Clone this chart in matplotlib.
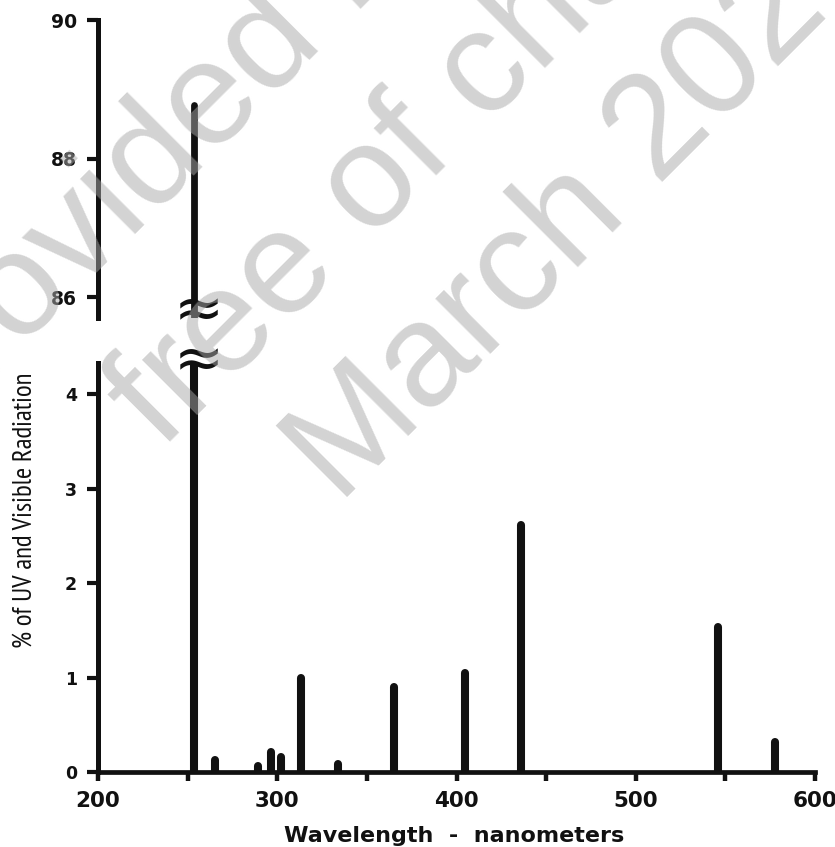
import matplotlib
matplotlib.use("Agg")
import matplotlib.pyplot as plt
from matplotlib import font_manager as fm

# Mercury lamp emission lines
wavelengths = [253.7, 265.2, 289.4, 296.7, 302.2, 313.2, 334.1, 365.0, 404.7, 435.8, 546.1, 577.9]
percent = [88.78, 0.13, 0.06, 0.21, 0.16, 1.00, 0.08, 0.90, 1.05, 2.61, 1.53, 0.32]

x_major = [200, 300, 400, 500, 600]
x_minor = [250, 350, 450, 550]
y_low_ticks = [0, 1, 2, 3, 4]
y_high_ticks = [86, 88, 90]

# pick a narrow / condensed sans face for the y-axis title
ylab_font = None
for f in fm.fontManager.ttflist:
    if 'sans narrow' in f.name.lower() and f.style == 'normal' and f.weight in (400, 'normal', 'regular'):
        ylab_font = fm.FontProperties(fname=f.fname, size=19.4)
        break
if ylab_font is None:
    for f in fm.fontManager.ttflist:
        if (f.name == 'DejaVu Sans' and str(f.stretch).lower() == 'condensed'
                and f.style == 'normal' and f.weight in (400, 'normal', 'regular')):
            ylab_font = fm.FontProperties(fname=f.fname, size=15.3)
            break
if ylab_font is None:
    ylab_font = fm.FontProperties(family=['Liberation Sans', 'DejaVu Sans'], size=15)

W_, H_ = 835, 847
fig = plt.figure(figsize=(W_ / 100, H_ / 100), dpi=100)
L = 98 / W_
R = 815 / W_
ax_b = fig.add_axes([L, 1 - 772 / H_, R - L, (772 - 363) / H_])
ax_t = fig.add_axes([L, 1 - 318 / H_, R - L, (318 - 20) / H_])

TICKF = ['DejaVu Sans']
INK = '#111111'

for ax, lw in ((ax_b, 5.8), (ax_t, 4.9)):
    ax.vlines(wavelengths, 0, percent, colors=INK, linewidth=lw,
              capstyle='round', zorder=3)
    ax.set_xlim(200, 600)
    for s in ('top', 'right'):
        ax.spines[s].set_visible(False)
    ax.spines['left'].set_linewidth(3.6)
    ax.spines['left'].set_color(INK)
    ax.tick_params(axis='y', direction='out', length=8, width=3.0, color=INK, pad=7)

ax_b.set_ylim(0, 4.33)
ax_t.set_ylim(85.7, 90)

ax_b.spines['bottom'].set_linewidth(3.4)
ax_b.spines['bottom'].set_color(INK)
ax_b.set_xticks(x_major)
ax_b.set_xticks(x_minor, minor=True)
ax_b.tick_params(axis='x', which='both', direction='out', length=6.5, width=3.2, color=INK, pad=7)
ax_b.set_xticklabels([str(v) for v in x_major], fontsize=15.5, fontweight='bold', family=TICKF, color=INK)
ax_b.set_yticks(y_low_ticks)
ax_b.set_yticklabels([str(v) for v in y_low_ticks], fontsize=12.5, fontweight='bold', family=TICKF, color=INK)

ax_t.spines['bottom'].set_visible(False)
ax_t.set_xticks([])
ax_t.set_yticks(y_high_ticks)
ax_t.set_yticklabels([str(v) for v in y_high_ticks], fontsize=13.5, fontweight='bold', family=TICKF, color=INK)

# axis break marks on the tall 254 nm line (one above, one below the gap)
fig.text(199 / W_, 1 - 337 / H_, '\u2248\n\u2248', fontsize=43, ha='center', va='center',
         multialignment='center', linespacing=0.8, color=INK, zorder=5,
         family=['DejaVu Sans'])

fig.text(454 / W_, 1 - 842 / H_, 'Wavelength  -  nanometers', ha='center', va='baseline',
         fontsize=16, fontweight='bold', family=['DejaVu Sans'], color=INK)
fig.text(25 / W_, 1 - 510 / H_, '% of UV and Visible Radiation', ha='center', va='center',
         rotation=90, fontproperties=ylab_font, color=INK)

# watermark
wm = dict(rotation=45, rotation_mode='anchor', ha='left', va='baseline',
          fontsize=106, color='#a8a8a8', alpha=0.5, zorder=20,
          family=['Liberation Sans', 'DejaVu Sans'])
fig.text(-85 / W_, 1 - 455 / H_, 'Provided by', **wm)
fig.text(162 / W_, 1 - 451 / H_, 'free of charge', **wm)
fig.text(339 / W_, 1 - 505 / H_, 'March 2020', **wm)

fig.savefig('out.png', dpi=100)
